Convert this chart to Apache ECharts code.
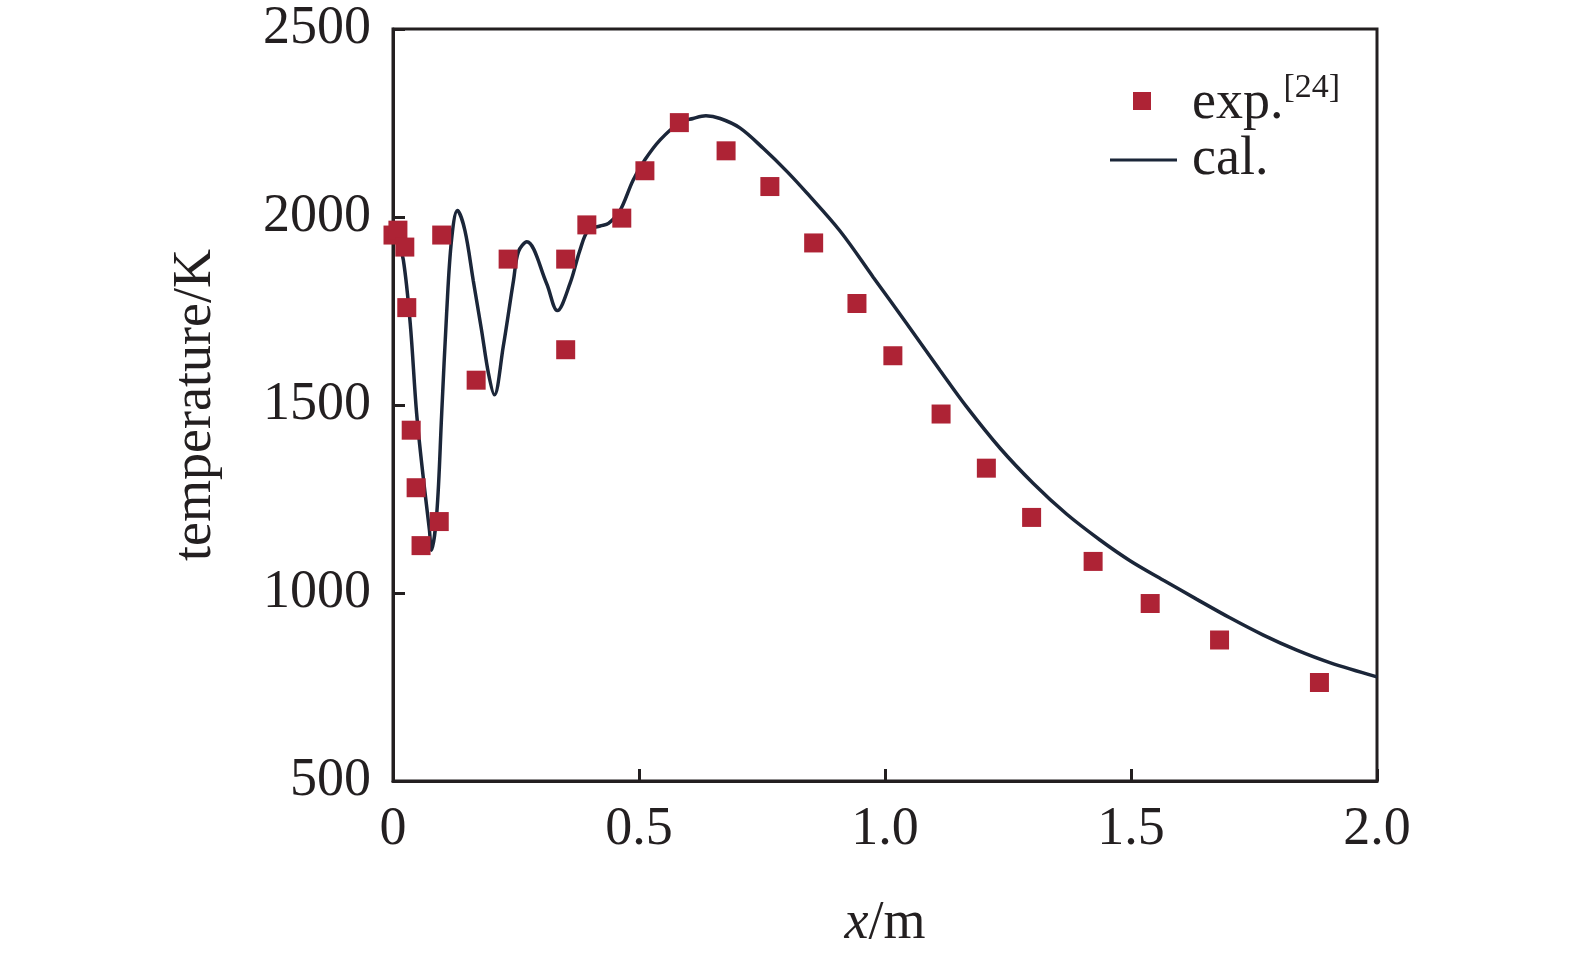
<!DOCTYPE html>
<html>
<head>
<meta charset="utf-8">
<script src="https://cdn.jsdelivr.net/npm/echarts@6/dist/echarts.min.js"></script>
<style>
  html, body { margin: 0; padding: 0; background: #fff; }
  #chart { width: 1575px; height: 956px; }
</style>
</head>
<body>
<div id="chart"></div>
<script>
// experimental points, exp.[24]
var expX = [0.0, 0.01, 0.024, 0.028, 0.037, 0.047, 0.057, 0.094, 0.099, 0.169, 0.234, 0.351, 0.351, 0.394, 0.465,
  0.512, 0.582, 0.677, 0.766, 0.855, 0.943, 1.016, 1.114, 1.206, 1.298, 1.423, 1.539, 1.680, 1.883]
var expY = [1952, 1965, 1920, 1759, 1433, 1280, 1126, 1190, 1952, 1566, 1888, 1888, 1647, 1979, 1997,
  2123, 2251, 2176, 2081, 1931, 1770, 1631, 1476, 1332, 1201, 1084, 972, 875, 762]

// calculated curve, cal.
var calX = [0.0, 0.008, 0.021, 0.035, 0.048, 0.062, 0.074, 0.078, 0.089, 0.099, 0.109, 0.119, 0.131, 0.146, 0.163,
  0.180, 0.194, 0.206, 0.224, 0.245, 0.255, 0.272, 0.312, 0.334, 0.360, 0.380, 0.397, 0.421, 0.438, 0.461,
  0.488, 0.512, 0.543, 0.583, 0.610, 0.636, 0.665, 0.705, 0.753, 0.800, 0.841, 0.909, 0.976, 1.044, 1.112,
  1.166, 1.234, 1.301, 1.369, 1.437, 1.498, 1.566, 1.634, 1.701, 1.769, 1.837, 1.904, 2.0]
var calY = [1960, 1950, 1886, 1717, 1478, 1301, 1168, 1114, 1212, 1478, 1744, 1939, 2017, 1965, 1832,
  1699, 1584, 1527, 1655, 1832, 1908, 1934, 1824, 1751, 1824, 1912, 1965, 1976, 1983, 2016,
  2098, 2152, 2205, 2251, 2262, 2269, 2262, 2237, 2182, 2122, 2064, 1962, 1840, 1717, 1592,
  1495, 1385, 1292, 1210, 1141, 1086, 1034, 983, 934, 888, 848, 815, 777]

var xTicks = [0, 0.5, 1.0, 1.5, 2.0]
var yTicks = [500, 1000, 1500, 2000, 2500]

var font = 'Liberation Serif'
var ink = '#231f20'
var red = '#ae2335'
var navy = '#1b2639'

var chart = echarts.init(document.getElementById('chart'))

chart.setOption({
  backgroundColor: '#fff',
  animation: false,
  textStyle: { fontFamily: font, color: ink },
  grid: {
    left: 393,
    top: 29,
    right: 198,
    bottom: 175,
    show: true,
    borderColor: ink,
    borderWidth: 3
  },
  legend: [
    {
      data: ['exp.'],
      left: 1133,
      top: 71,
      padding: 0,
      itemWidth: 18,
      itemHeight: 18,
      formatter: '{g|}{a|exp.}{s|[24]}',
      textStyle: {
        rich: {
          g: { width: 36 },
          a: { fontFamily: font, fontSize: 54, color: ink, lineHeight: 60, verticalAlign: 'bottom' },
          s: { fontFamily: font, fontSize: 34, color: ink, lineHeight: 60, verticalAlign: 'top' }
        }
      }
    },
    {
      data: [{ name: 'cal.', icon: 'rect' }],
      left: 1110,
      top: 133,
      padding: 0,
      itemWidth: 67,
      itemHeight: 3,
      formatter: '{g|}{a|cal.}',
      textStyle: {
        rich: {
          g: { width: 10 },
          a: { fontFamily: font, fontSize: 54, color: ink, lineHeight: 60 }
        }
      }
    }
  ],
  xAxis: {
    type: 'value',
    min: xTicks[0],
    max: xTicks[xTicks.length - 1],
    interval: 0.5,
    name: '{i|x}/m',
    nameLocation: 'middle',
    nameGap: 116,
    nameTextStyle: {
      fontFamily: font,
      fontSize: 54,
      color: ink,
      rich: {
        i: { fontFamily: font, fontStyle: 'italic', fontSize: 54, color: ink }
      }
    },
    axisLine: { lineStyle: { color: ink, width: 3 } },
    axisTick: { inside: true, length: 12, lineStyle: { color: ink, width: 3 } },
    axisLabel: {
      margin: 22,
      fontFamily: font,
      fontSize: 54,
      color: ink,
      formatter: function (v) {
        return v === 0 ? '0' : v.toFixed(1)
      }
    },
    splitLine: { show: false }
  },
  yAxis: {
    type: 'value',
    min: yTicks[0],
    max: yTicks[yTicks.length - 1],
    interval: 500,
    name: 'temperature/K',
    nameLocation: 'middle',
    nameGap: 170,
    nameTextStyle: { fontFamily: font, fontSize: 54, color: ink },
    axisLine: { lineStyle: { color: ink, width: 3 } },
    axisTick: { inside: true, length: 12, lineStyle: { color: ink, width: 3 } },
    axisLabel: {
      margin: 22,
      fontFamily: font,
      fontSize: 54,
      color: ink,
      formatter: function (v) { return String(v) }
    },
    splitLine: { show: false }
  },
  series: [
    {
      name: 'cal.',
      type: 'line',
      smooth: 0.35,
      symbol: 'none',
      showSymbol: false,
      lineStyle: { color: navy, width: 3.5 },
      itemStyle: { color: navy },
      z: 2,
      data: calX.map(function (x, i) { return [x, calY[i]] })
    },
    {
      name: 'exp.',
      type: 'scatter',
      symbol: 'rect',
      symbolSize: 19,
      itemStyle: { color: red, opacity: 1 },
      z: 3,
      data: expX.map(function (x, i) { return [x, expY[i]] })
    }
  ]
})
</script>
</body>
</html>
